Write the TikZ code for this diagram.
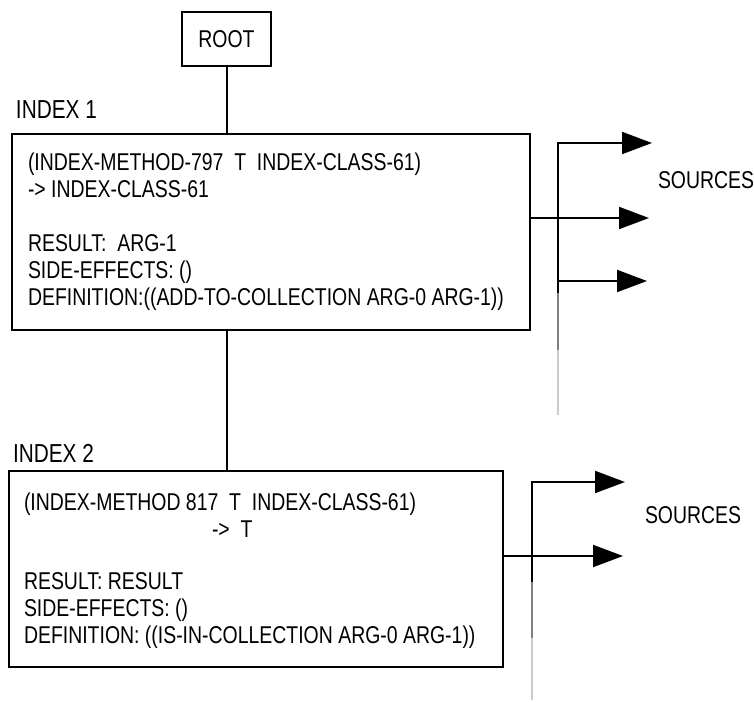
\documentclass[tikz,border=0pt]{standalone}
\usepackage{fontspec}
\setmainfont{Liberation Sans}[FakeStretch=0.8]
\usetikzlibrary{arrows.meta}
\begin{document}
\begin{tikzpicture}[x=1pt,y=-1pt,line width=2pt,
  frame/.style={draw, line width=2pt, inner sep=0pt, outer sep=0pt, anchor=north west,
    font=\fontsize{24.3}{27}\selectfont},
  body/.style={anchor=north west, inner sep=0pt, align=left,
    font=\fontsize{24.3}{27}\selectfont},
  tag/.style={anchor=west, inner sep=0pt, font=\fontsize{26}{28}\selectfont},
  srctext/.style={anchor=west, inner sep=0pt, font=\fontsize{24.3}{27}\selectfont},
  feed/.style={-{Triangle[length=30pt,width=22pt]}, line width=2pt},
  fade1/.style={line width=2pt, black!50},
  fade2/.style={line width=2pt, black!20},
]
\useasboundingbox (0,0) rectangle (754,701);

% root and the two index boxes
\node[frame, minimum width=89pt, minimum height=54pt] (root) at (182,12) {ROOT};
\node[frame, minimum width=518pt, minimum height=196pt] (box1) at (12,134) {};
\node[frame, minimum width=494pt, minimum height=196pt] (box2) at (9,471) {};

\node[tag] (idx1) at (15,110) {INDEX 1};
\node[tag] (idx2) at (12,453) {INDEX 2};

\node[body] (txt1) at (27,152) {%
(INDEX-METHOD-797\ \ T\ \ INDEX-CLASS-61)\\
-> INDEX-CLASS-61\\[27pt]
RESULT:\ \ ARG-1\\
SIDE-EFFECTS: ()\\
DEFINITION:((ADD-TO-COLLECTION ARG-0 ARG-1))};

\node[body] (txt2) at (23,492) {%
(INDEX-METHOD 817\ \ T\ \ INDEX-CLASS-61)\\
\hspace*{188pt}->\ \ T\\[25pt]
RESULT: RESULT\\
SIDE-EFFECTS: ()\\
DEFINITION: ((IS-IN-COLLECTION ARG-0 ARG-1))};

% tree links
\draw (root.south) -- (root.south |- box1.north);
\draw (root.south |- box1.south) -- (root.south |- box2.north);

% sources fan of the first index
\coordinate (busAtop) at (558,143);
\coordinate (busAlow) at (558,281);
\coordinate (busAend) at (558,293);
\coordinate (busAmid) at (558,350);
\coordinate (busAfoot) at (558,415);
\coordinate (tipA1) at (652,143);
\coordinate (tipA2) at (649,218);
\coordinate (tipA3) at (647,281);
\draw[feed] (busAend) -- (busAtop) -- (tipA1);
\draw[feed] (box1.east |- tipA2) -- (tipA2);
\draw[feed] (busAlow) -- (tipA3);
\draw[fade1] (busAend) -- (busAmid);
\draw[fade2] (busAmid) -- (busAfoot);
\node[srctext] (srcA) at (657,180) {SOURCES};

% sources fan of the second index
\coordinate (busBtop) at (532,482);
\coordinate (busBend) at (532,582);
\coordinate (busBmid) at (532,638);
\coordinate (busBfoot) at (532,700);
\coordinate (tipB1) at (625,482);
\coordinate (tipB2) at (623,556);
\draw[feed] (busBend) -- (busBtop) -- (tipB1);
\draw[feed] (box2.east |- tipB2) -- (tipB2);
\draw[fade1] (busBend) -- (busBmid);
\draw[fade2] (busBmid) -- (busBfoot);
\node[srctext] (srcB) at (644,515) {SOURCES};
\end{tikzpicture}
\end{document}
